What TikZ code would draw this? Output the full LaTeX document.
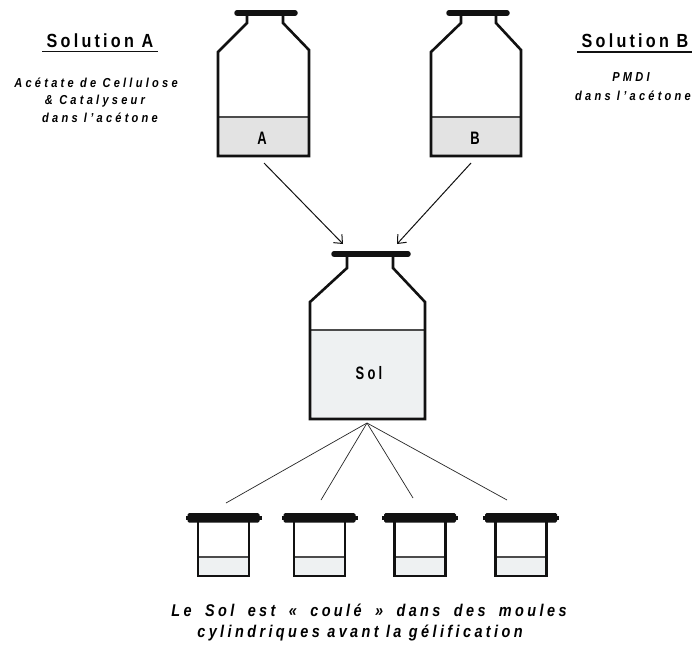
\documentclass[tikz,border=0pt]{standalone}
\usepackage{fontspec}
\setmainfont{Liberation Sans}
\newfontfamily\titfont[LetterSpace=17,FakeStretch=0.85]{Liberation Sans}
\newfontfamily\descfont[LetterSpace=25,FakeStretch=0.85]{Liberation Sans}
\newfontfamily\txtfont[LetterSpace=20,FakeStretch=0.85]{Liberation Sans}
\newfontfamily\inlfont[LetterSpace=18,FakeStretch=0.72]{Liberation Sans}
\newcommand\wsp{\ \hspace{6pt}}
\usetikzlibrary{arrows.meta}
\definecolor{liqAB}{HTML}{E3E3E3}
\definecolor{liqS}{HTML}{EEF1F2}
\definecolor{ink}{HTML}{111111}
\begin{document}
\begin{tikzpicture}[x=1pt,y=-1pt,
  outline/.style={draw=ink,line width=2.6pt,line join=miter},
  lid/.style={draw=ink,line width=5.5pt,line cap=round},
  surf/.style={draw=black!70,line width=1.1pt},
  feed/.style={draw=ink,line width=1pt,-{Straight Barb[length=7pt,width=12pt]}},
  pour/.style={draw=black!85,line width=0.7pt},
  title/.style={font=\titfont\bfseries\fontsize{19}{22}\selectfont,anchor=base,inner sep=0pt},
  desc/.style={font=\descfont\bfseries\itshape\fontsize{13}{15}\selectfont,anchor=base,inner sep=0pt},
  foot/.style={font=\txtfont\bfseries\itshape\fontsize{17}{20}\selectfont,anchor=base,inner sep=0pt},
  inl/.style={font=\inlfont\bfseries\fontsize{18}{20}\selectfont,anchor=base,inner sep=0pt},
  uline/.style={draw=ink,line width=1.8pt}]
\useasboundingbox (0,0) rectangle (692,645);
\fill[white] (0,0) rectangle (692,645);

% ---- bottle A ----
\fill[liqAB] (218,117) rectangle (309,156);
\draw[surf] (218,117) -- (309,117);
\draw[outline] (247,15) -- (247,23) -- (218,52) -- (218,156) -- (309,156) -- (309,50) -- (283,23) -- (283,15);
\draw[lid] (237,13) -- (295,13);
\node[inl] (labA) at (262,144) {A};

% ---- bottle B ----
\fill[liqAB] (431,117) rectangle (521,156);
\draw[surf] (431,117) -- (521,117);
\draw[outline] (461,15) -- (461,23) -- (431,52) -- (431,156) -- (521,156) -- (521,50) -- (496,23) -- (496,15);
\draw[lid] (449,13) -- (507,13);
\node[inl] (labB) at (475,144) {B};

% ---- Sol bottle ----
\fill[liqS] (310,330) rectangle (425,419);
\draw[surf] (310,330) -- (425,330);
\draw[outline] (347,257) -- (347,268) -- (310,302) -- (310,419) -- (425,419) -- (425,302) -- (393,268) -- (393,257);
\draw[lid] (334,254) -- (408,254);
\node[inl] (labS) at (369,379) {Sol};

% ---- feed arrows ----
\coordinate (outA) at (264,163);
\coordinate (inA) at (343,244);
\coordinate (outB) at (471,163);
\coordinate (inB) at (397,244);
\draw[feed] (outA) -- (inA);
\draw[feed] (outB) -- (inB);

% ---- moulds ----
\coordinate (apex) at (367,423);
\foreach \c/\ex/\ey [count=\i] in {223.5/226/503, 319.5/321/500, 420/413/498, 521/507/500}{
  \fill[liqS] (\c-25.5,557) rectangle (\c+25.5,576);
  \draw[surf] (\c-25.5,557) -- (\c+25.5,557);
  \draw[outline] (\c-25.5,520) -- (\c-25.5,576) -- (\c+25.5,576) -- (\c+25.5,520);
  \fill[ink,rounded corners=1.5pt] (\c-36,513) rectangle (\c+36,522.5);
  \fill[ink] (\c-38,515.5) rectangle (\c+38,520);
  \coordinate (m\i) at (\ex,\ey);
  \draw[pour] (apex) -- (m\i);
}

% ---- texts ----
\node[title] (solA) at (100,47) {Solution A};
\draw[uline] (42,51.5) -- (158,51.5);
\node[desc] (a1) at (96,87) {Acétate de Cellulose};
\node[desc] (a2) at (95,104) {\& Catalyseur};
\node[desc] (a3) at (100,122) {dans l’acétone};

\node[title] (solB) at (635,47) {Solution B};
\draw[uline] (577,52) -- (692,52);
\node[desc] (b1) at (631,81) {PMDI};
\node[desc] (b2) at (633,100) {dans l’acétone};

\node[foot] (f1) at (369,616) {Le\wsp Sol\wsp est\wsp «\wsp coulé\wsp »\wsp dans\wsp des\wsp moules};
\node[foot] (f2) at (360,637) {cylindriques avant la gélification};
\end{tikzpicture}
\end{document}
